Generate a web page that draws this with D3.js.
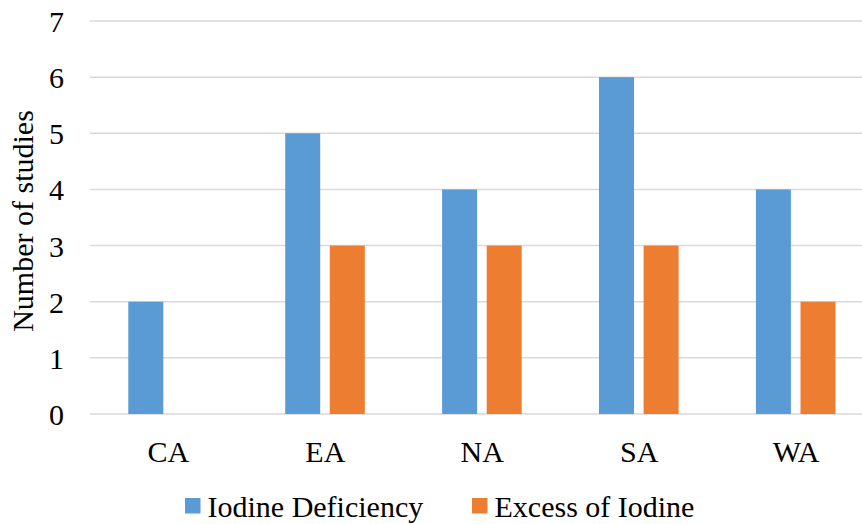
<!DOCTYPE html>
<html>
<head>
<meta charset="utf-8">
<script src="https://cdn.jsdelivr.net/npm/d3@7"></script>
<style>
  html, body { margin: 0; padding: 0; background: #fff; }
  svg { display: block; }
</style>
</head>
<body>
<svg id="chart" width="862" height="524" font-family="Liberation Serif"></svg>
<script>
const categories = ["CA", "EA", "NA", "SA", "WA"];
const seriesNames = ["Iodine Deficiency", "Excess of Iodine"];
const deficiency = [2, 5, 4, 6, 4];
const excess = [0, 3, 3, 3, 2];
const yTicks = [0, 1, 2, 3, 4, 5, 6, 7];
const colors = ["#5B9BD5", "#ED7D31"];

const FONT = "Liberation Serif";
const FS = 30;
const svg = d3.select("#chart");
const W = 862, H = 524;
const plotLeft = 90, plotRight = 874.5, plotTop = 21, plotBottom = 414;

const x0 = d3.scaleBand().domain(categories).range([plotLeft, plotRight]).paddingInner(0).paddingOuter(0);
const x1 = d3.scaleBand().domain(seriesNames).range([38.3, 38.3 + 79.6]).paddingInner(0.215).paddingOuter(0);
const y = d3.scaleLinear().domain([0, 7]).range([plotBottom, plotTop]);

// gridlines
svg.append("g")
  .selectAll("line")
  .data(yTicks)
  .join("line")
  .attr("x1", plotLeft).attr("x2", W)
  .attr("y1", d => y(d)).attr("y2", d => y(d))
  .attr("stroke", "#d9d9d9").attr("stroke-width", 1.5);

// y axis labels
const yAxis = d3.axisLeft(y).tickValues(yTicks).tickSize(0).tickPadding(0).tickFormat(d3.format("d"));
const yg = svg.append("g").attr("transform", `translate(64,0)`).call(yAxis)
  .attr("font-family", FONT).attr("font-size", FS);
yg.select(".domain").remove();
yg.selectAll("text").attr("dy", "0.35em").attr("fill", "#000");

// bars
const rows = categories.map((c, i) => ({ cat: c, vals: [deficiency[i], excess[i]] }));
const groups = svg.append("g").selectAll("g")
  .data(rows).join("g")
  .attr("transform", d => `translate(${x0(d.cat)},0)`);
groups.selectAll("rect")
  .data(d => d.vals.map((v, j) => ({ name: seriesNames[j], v, j })).filter(e => e.v > 0))
  .join("rect")
  .attr("x", d => x1(d.name))
  .attr("width", x1.bandwidth())
  .attr("y", d => y(d.v))
  .attr("height", d => y(0) - y(d.v))
  .attr("fill", d => colors[d.j]);

// x axis labels
const xAxis = d3.axisBottom(x0).tickSize(0).tickPadding(0);
const xg = svg.append("g").attr("transform", `translate(0,462)`).call(xAxis)
  .attr("font-family", FONT).attr("font-size", FS);
xg.select(".domain").remove();
xg.selectAll("text").attr("dy", 0).attr("y", 0).attr("fill", "#000");

// y axis title
svg.append("text")
  .attr("transform", `translate(33,221) rotate(-90)`)
  .attr("text-anchor", "middle")
  .attr("font-family", FONT)
  .attr("font-size", FS)
  .attr("fill", "#000")
  .text("Number of studies");

// legend
const legendPos = [185, 472];
const leg = svg.append("g").selectAll("g")
  .data(seriesNames).join("g")
  .attr("transform", (d, i) => `translate(${legendPos[i]},0)`);
leg.append("rect").attr("x", 0).attr("y", 498).attr("width", 15.5).attr("height", 15.5)
  .attr("fill", (d, i) => colors[i]);
leg.append("text").attr("x", 22.5).attr("y", 517)
  .attr("font-family", FONT).attr("font-size", FS).attr("fill", "#000").text(d => d);
</script>
</body>
</html>
